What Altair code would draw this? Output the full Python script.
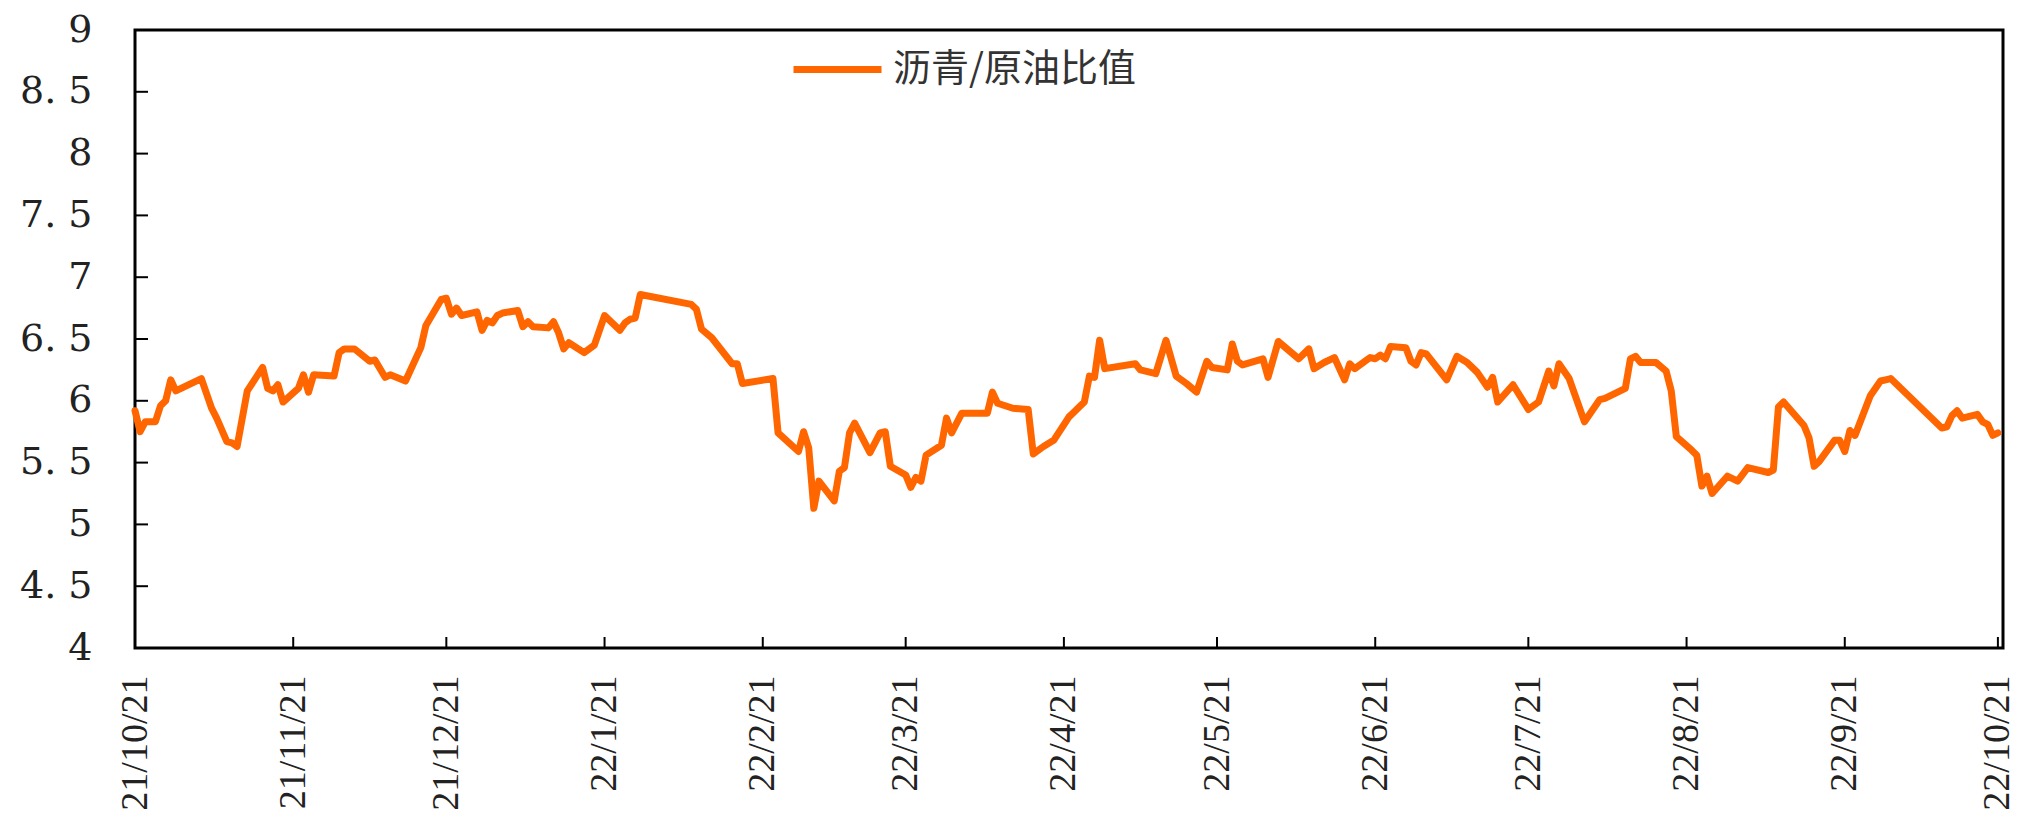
import altair as alt
import pandas as pd

start_date = "2021-10-21"
series_name = "沥青/原油比值"

day_offsets = [0, 1, 2, 4, 5, 6, 7, 8, 13, 15, 16, 18, 19, 20, 22, 25, 26, 27, 28, 29,
               32, 33, 34, 35, 39, 40, 41, 43, 46, 47, 49, 50, 53, 56, 57, 60, 61, 62, 63, 64,
               67, 68, 69, 70, 71, 72, 75, 76, 77, 78, 81, 82, 83, 84, 85, 88, 90, 92, 95, 96,
               97, 98, 99, 109, 110, 111, 113, 117, 118, 119, 125, 126, 130, 131, 132, 133, 134, 137, 138, 139,
               140, 141, 144, 146, 147, 148, 151, 152, 153, 154, 155, 158, 159, 160, 162, 167, 168, 169, 172, 175,
               176, 178, 180, 183, 184, 186, 187, 188, 189, 190, 196, 197, 200, 202, 204, 206, 208, 210, 211, 214,
               215, 216, 217, 221, 222, 224, 228, 230, 231, 233, 235, 237, 238, 239, 242, 243, 244, 245, 246, 249,
               250, 251, 252, 253, 257, 259, 261, 263, 265, 266, 267, 270, 273, 275, 277, 278, 279, 281, 284, 287,
               288, 292, 293, 294, 295, 298, 300, 301, 302, 305, 306, 307, 308, 309, 312, 314, 316, 320, 321, 322,
               323, 327, 328, 329, 330, 333, 334, 335, 336, 337, 340, 342, 343, 344, 354, 355, 356, 357, 358, 361,
               362, 363, 364, 365]

ratio = [5.92, 5.75, 5.83, 5.83, 5.96, 6.00, 6.17, 6.08, 6.18, 5.94, 5.86, 5.67, 5.66, 5.63, 6.08, 6.27, 6.10, 6.08, 6.13, 5.99,
         6.10, 6.21, 6.07, 6.21, 6.20, 6.39, 6.42, 6.42, 6.32, 6.33, 6.19, 6.21, 6.16, 6.43, 6.61, 6.82, 6.83, 6.70, 6.75, 6.69,
         6.72, 6.57, 6.65, 6.63, 6.69, 6.71, 6.73, 6.60, 6.64, 6.60, 6.59, 6.64, 6.55, 6.42, 6.47, 6.39, 6.45, 6.69, 6.57, 6.63,
         6.66, 6.67, 6.86, 6.78, 6.74, 6.58, 6.51, 6.30, 6.30, 6.14, 6.18, 5.74, 5.59, 5.75, 5.62, 5.13, 5.35, 5.19, 5.43, 5.46,
         5.74, 5.82, 5.58, 5.74, 5.75, 5.47, 5.40, 5.30, 5.38, 5.35, 5.56, 5.64, 5.86, 5.74, 5.90, 5.90, 6.07, 5.98, 5.94, 5.93,
         5.57, 5.63, 5.68, 5.87, 5.91, 5.99, 6.20, 6.19, 6.49, 6.26, 6.30, 6.25, 6.22, 6.49, 6.20, 6.14, 6.07, 6.32, 6.27, 6.25,
         6.46, 6.32, 6.29, 6.34, 6.19, 6.48, 6.34, 6.42, 6.26, 6.31, 6.35, 6.17, 6.30, 6.26, 6.35, 6.34, 6.37, 6.34, 6.44, 6.43,
         6.32, 6.29, 6.39, 6.38, 6.17, 6.36, 6.31, 6.23, 6.11, 6.19, 5.99, 6.13, 5.93, 5.99, 6.24, 6.12, 6.30, 6.18, 5.83, 6.01,
         6.02, 6.10, 6.34, 6.36, 6.31, 6.31, 6.24, 6.08, 5.71, 5.60, 5.56, 5.31, 5.39, 5.25, 5.39, 5.35, 5.46, 5.42, 5.44, 5.95,
         5.99, 5.80, 5.70, 5.47, 5.51, 5.68, 5.68, 5.59, 5.76, 5.72, 6.04, 6.16, 6.17, 6.18, 5.78, 5.79, 5.88, 5.92, 5.86, 5.89,
         5.83, 5.81, 5.72, 5.74]

x_tick_dates = ["2021-10-21", "2021-11-21", "2021-12-21", "2022-01-21", "2022-02-21", "2022-03-21",
                "2022-04-21", "2022-05-21", "2022-06-21", "2022-07-21", "2022-08-21", "2022-09-21",
                "2022-10-21"]
y_tick_values = [4, 4.5, 5, 5.5, 6, 6.5, 7, 7.5, 8, 8.5, 9]

dates = pd.to_datetime(start_date) + pd.to_timedelta(day_offsets, unit="D")
df = pd.DataFrame({"date": dates.strftime("%Y-%m-%d"), "ratio": ratio, "series": series_name})
df_xt = pd.DataFrame({"date": x_tick_dates})
df_yt = pd.DataFrame({"ratio": y_tick_values})

W, H = 1868, 618

x_dt = [alt.DateTime(year=int(d[:4]), month=int(d[5:7]), date=int(d[8:]), utc=True) for d in x_tick_dates]

x_enc = alt.X(
    "date:T",
    title=None,
    scale=alt.Scale(type="utc",
                    domain=[alt.DateTime(year=2021, month=10, date=21, utc=True),
                            alt.DateTime(year=2022, month=10, date=22, utc=True)]),
    axis=alt.Axis(values=x_dt, labelExpr="utcFormat(datum.value, '%y/%-m/%d')",
                  labelAngle=270, labelAlign="right", labelBaseline="middle",
                  labelPadding=27, labelFlush=False, labelOverlap=False,
                  labelFont="Liberation Serif", labelFontSize=38, labelColor="#222222", labelLimit=1000),
)
y_enc = alt.Y(
    "ratio:Q",
    title=None,
    scale=alt.Scale(domain=[4, 9], nice=False, zero=False),
    axis=alt.Axis(values=y_tick_values,
                  labelExpr="replace(format(datum.value, '.1~f'), '.', '. ')",
                  labelPadding=43, labelOverlap=False,
                  labelFont="DejaVu Serif", labelFontSize=38, labelColor="#222222"),
)

line = alt.Chart(df).mark_line(strokeWidth=7, strokeJoin="round", strokeCap="round").encode(
    x=x_enc,
    y=y_enc,
    color=alt.Color("series:N", scale=alt.Scale(range=["#FF6600"]),
                    legend=alt.Legend(orient="none", legendX=655, legendY=-8, title=None,
                                      symbolType="stroke", symbolSize=7744, symbolStrokeWidth=7,
                                      labelFont="Noto Sans CJK SC", labelFontSize=38,
                                      labelLimit=1000,
                                      labelColor="#333333", labelOffset=8, padding=0)),
)

xticks = alt.Chart(df_xt).mark_rule(color="black", strokeWidth=2).encode(
    x=x_enc, y=alt.value(H), y2=alt.value(H - 11)
)
yticks = alt.Chart(df_yt).mark_rule(color="black", strokeWidth=2).encode(
    y=y_enc, x=alt.value(0), x2=alt.value(13)
)

chart = alt.layer(line, xticks, yticks).properties(
    width=W, height=H,
    autosize=alt.AutoSizeParams(type="none"),
    padding={"left": 127, "top": 22, "right": 18, "bottom": 165},
    background="white",
).configure_view(
    stroke="black", strokeWidth=3
).configure_axis(
    domain=False, ticks=False, grid=False,
)

chart.save("out.html", embed_options={"renderer": "svg", "actions": False})
